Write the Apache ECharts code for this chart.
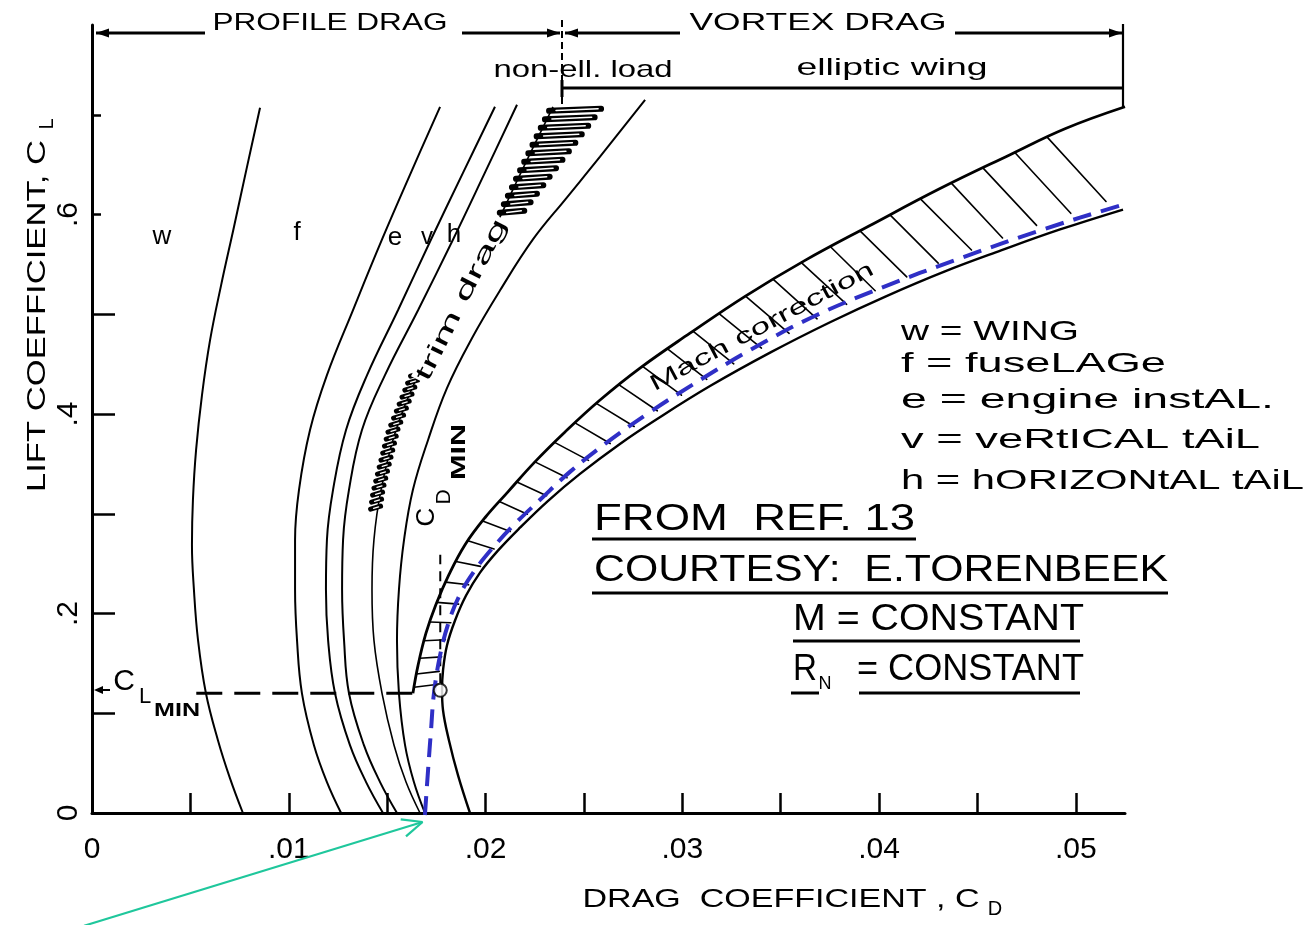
<!DOCTYPE html>
<html lang="en">
<head>
<meta charset="utf-8">
<title>Drag polar build-up</title>
<script src="https://cdn.jsdelivr.net/npm/echarts@6.0.0/dist/echarts.min.js"></script>
<style>
  html, body { margin: 0; padding: 0; background: #fff; }
  #chart { width: 1311px; height: 925px; }
</style>
</head>
<body>
<div id="chart"></div>
<script>
// ---- axes ----
const CD_MAX = 0.0525;
const CL_MAX = 0.79;
const CD_TICKS = [0.005, 0.01, 0.015, 0.02, 0.025, 0.03, 0.035, 0.04, 0.045, 0.05];
const CD_LABELS = [0, 0.01, 0.02, 0.03, 0.04, 0.05];
const CL_TICKS_LONG = [0.1, 0.2, 0.3, 0.4, 0.5];
const CL_TICKS_SHORT = [0.6, 0.7];
const CL_LABELS = [0, 0.2, 0.4, 0.6];

// ---- cumulative profile-drag polars, [CD, CL] ----
const POLAR_W = [[0.00854,0.707],[0.00788,0.648],[0.00722,0.588],[0.00656,0.529],[0.0060,0.474],[0.00559,0.419],[0.00529,0.364],[0.00513,0.314],[0.00508,0.269],[0.00518,0.224],[0.00539,0.173],[0.00579,0.12],[0.0064,0.073],[0.00701,0.035],[0.00767,0]];
const POLAR_F = [[0.01769,0.708],[0.01621,0.642],[0.01474,0.575],[0.01326,0.504],[0.01194,0.439],[0.01108,0.384],[0.01052,0.324],[0.01032,0.274],[0.01032,0.224],[0.01042,0.173],[0.01067,0.12],[0.01128,0.068],[0.01194,0.031],[0.01266,0]];
const POLAR_E = [[0.02048,0.708],[0.01886,0.642],[0.01723,0.575],[0.01555,0.504],[0.01398,0.439],[0.01291,0.384],[0.01225,0.324],[0.01194,0.274],[0.01189,0.224],[0.012,0.173],[0.01235,0.12],[0.01311,0.068],[0.01393,0.031],[0.01479,0]];
const POLAR_V = [[0.0216,0.71],[0.01997,0.642],[0.01835,0.575],[0.01657,0.504],[0.01489,0.439],[0.01372,0.384],[0.01306,0.324],[0.01276,0.274],[0.01271,0.224],[0.01281,0.173],[0.01306,0.12],[0.01382,0.068],[0.01464,0.031],[0.0155,0]];
const POLAR_H = [[0.02343,0.708],[0.0218,0.642],[0.02018,0.575],[0.0183,0.504],[0.01657,0.439],[0.01545,0.384],[0.01469,0.324],[0.01433,0.274],[0.01423,0.224],[0.01433,0.173],[0.01474,0.12],[0.01535,0.068],[0.01596,0.031],[0.01667,0]];
const POLAR_TRIM = [[0.02811,0.715],[0.02582,0.658],[0.02409,0.616],[0.02241,0.575],[0.02074,0.524],[0.01931,0.476],[0.01804,0.426],[0.01708,0.374],[0.01631,0.324],[0.01586,0.274],[0.0156,0.224],[0.0155,0.173],[0.0156,0.12],[0.01591,0.068],[0.01636,0.031],[0.01692,0]];

// ---- vortex-drag band (non-elliptic load) and Mach-corrected polar ----
const VORTEX_UPPER = [[0.01631,0.12],[0.01657,0.148],[0.01697,0.18],[0.01748,0.209],[0.01814,0.239],[0.01896,0.269],[0.01997,0.296],[0.02114,0.322],[0.02251,0.352],[0.02404,0.382],[0.02582,0.414],[0.02785,0.446],[0.03039,0.481],[0.03319,0.518],[0.03624,0.554],[0.03954,0.589],[0.0431,0.626],[0.04666,0.66],[0.04945,0.686],[0.0525,0.708]];
const VORTEX_LOWER = [[0.01921,0],[0.0186,0.038],[0.01814,0.073],[0.01784,0.103],[0.01779,0.123],[0.01784,0.143],[0.01804,0.168],[0.01845,0.193],[0.01901,0.218],[0.01972,0.241],[0.02063,0.263],[0.02175,0.286],[0.02318,0.313],[0.0248,0.34],[0.02683,0.37],[0.02872,0.395],[0.03141,0.428],[0.03451,0.462],[0.03751,0.492],[0.04035,0.518],[0.04335,0.543],[0.0462,0.564],[0.0492,0.585],[0.0524,0.605]];
const MACH_POLAR = [[0.01692,-0.002],[0.01708,0.043],[0.01723,0.083],[0.01738,0.12],[0.01769,0.158],[0.01814,0.192],[0.0187,0.219],[0.01941,0.242],[0.02033,0.265],[0.0215,0.29],[0.02277,0.314],[0.02429,0.342],[0.02607,0.37],[0.02836,0.402],[0.0309,0.434],[0.03344,0.464],[0.03649,0.496],[0.04005,0.526],[0.04411,0.556],[0.04818,0.584],[0.05225,0.609],[0.0553,0.626],[0.05733,0.637]];

// ---- reference marks ----
const CL_MIN = 0.12;
const CL_MIN_SPAN = [0.0053, 0.0164];      // CD extent of the dashed C_L,min line
const CD_MIN_POINT = [0.0177, 0.123];
const CD_MIN_SPAN = [0.13, 0.259];         // CL extent of the dashed C_D,min marker
const TRIM_HATCH_CL = [0.60, 0.704];
const TRIM_LOOP_CL = [0.30, 0.44];
const ARROW_TAIL = [-0.0004, -0.113];
const ARROW_TIP = [0.0168, -0.009];

const FONT = "'Liberation Sans', 'DejaVu Sans', Arial, sans-serif";
const INK = '#000';
const BLUE = '#2f2fc6';
const TEAL = '#1fc79c';

const chart = echarts.init(document.getElementById('chart'), null, { renderer: 'canvas' });

function polarLine(data, width, extra) {
  return Object.assign({
    type: 'line', data: data, symbol: 'none', smooth: 0.4, clip: false, silent: true,
    lineStyle: { color: INK, width: width || 2 }, z: 3
  }, extra || {});
}

function sampler(pts) {
  const cum = [0];
  for (let i = 1; i < pts.length; i++) cum.push(cum[i - 1] + Math.hypot(pts[i][0] - pts[i - 1][0], pts[i][1] - pts[i - 1][1]));
  const total = cum[cum.length - 1];
  return function (t) {
    const d = Math.max(0, Math.min(1, t)) * total;
    let i = 1;
    while (i < cum.length - 1 && cum[i] < d) i++;
    const seg = (cum[i] - cum[i - 1]) || 1;
    const k = (d - cum[i - 1]) / seg;
    return [pts[i - 1][0] + (pts[i][0] - pts[i - 1][0]) * k, pts[i - 1][1] + (pts[i][1] - pts[i - 1][1]) * k];
  };
}

// distance along ray a + t*d to the first crossing of a polyline
function rayHit(a, d, poly) {
  let best = null;
  for (let i = 1; i < poly.length; i++) {
    const p = poly[i - 1], q = poly[i];
    const e = [q[0] - p[0], q[1] - p[1]];
    const den = d[0] * e[1] - d[1] * e[0];
    if (Math.abs(den) < 1e-9) continue;
    const w = [p[0] - a[0], p[1] - a[1]];
    const t = (w[0] * e[1] - w[1] * e[0]) / den;
    const u = (w[0] * d[1] - w[1] * d[0]) / den;
    if (t > 0 && u >= 0 && u <= 1 && (best === null || t < best)) best = t;
  }
  return best;
}

function xAtY(pts, y) {
  for (let i = 1; i < pts.length; i++) {
    const a = pts[i - 1], b = pts[i];
    if ((y - a[1]) * (y - b[1]) <= 0 && a[1] !== b[1]) return a[0] + (b[0] - a[0]) * (y - a[1]) / (b[1] - a[1]);
  }
  return pts[pts.length - 1][0];
}

function seg(x1, y1, x2, y2, color, w) {
  return { type: 'line', shape: { x1: x1, y1: y1, x2: x2, y2: y2 }, style: { stroke: color, lineWidth: w, lineCap: 'round' } };
}

// slanted hatch strokes across the vortex-drag band
function renderVortexHatch(params, api) {
  const up = VORTEX_UPPER.map(p => api.coord(p));
  const lo = VORTEX_LOWER.filter(p => p[1] >= CL_MIN).map(p => api.coord(p));
  const U = sampler(up);
  const kids = [];
  const n = 34, tilt = 0.3;
  for (let i = 0; i < n; i++) {
    const s = Math.pow((i + 0.7) / n, 1.3);
    const a = U(s), p0 = U(s - 0.01), p1 = U(s + 0.01);
    let tx = p1[0] - p0[0], ty = p1[1] - p0[1];
    const tl = Math.hypot(tx, ty) || 1; tx /= tl; ty /= tl;
    const nx = -ty, ny = tx;                       // normal pointing into the band
    const d = [nx * Math.cos(tilt) + tx * Math.sin(tilt), ny * Math.cos(tilt) + ty * Math.sin(tilt)];
    const hit = rayHit(a, d, lo);
    if (hit === null) continue;
    const len = hit * 0.86;
    kids.push(seg(a[0], a[1], a[0] + d[0] * len, a[1] + d[1] * len, INK, 1.6));
  }
  return { type: 'group', children: kids };
}

// looped hatching of the trim-drag strip
function renderTrimHatch(params, api) {
  const pts = POLAR_H.map(p => api.coord(p));
  const kids = [];
  const yA = api.coord([0, TRIM_HATCH_CL[1]])[1], yB = api.coord([0, TRIM_HATCH_CL[0]])[1];
  for (let y = yA; y <= yB; y += 8.5) {
    const x = xAtY(pts, y);
    const t = (yB - y) / (yB - yA);
    const len = 22 + 28 * t;
    kids.push(seg(x - 2, y, x + len, y - 2, INK, 6));
    kids.push(seg(x + 5, y - 0.3, x + len - 3, y - 2, '#fff', 1.6));
  }
  const yC = api.coord([0, TRIM_LOOP_CL[1]])[1], yD = api.coord([0, TRIM_LOOP_CL[0]])[1];
  for (let y = yC; y <= yD; y += 7) {
    const x = xAtY(pts, y);
    kids.push(seg(x - 8, y + 2, x + 2, y - 1, INK, 5));
    kids.push(seg(x - 5, y + 1.2, x, y - 0.2, '#fff', 1.3));
  }
  return { type: 'group', children: kids };
}

// ---- text helpers (stretched to the hand-lettered widths) ----
const mctx = document.createElement('canvas').getContext('2d');
function txt(str, x, y, width, size, opt) {
  opt = opt || {};
  const weight = opt.weight || 'normal';
  mctx.font = weight + ' ' + size + 'px ' + FONT;
  const w = mctx.measureText(str).width;
  const style = {
    text: str, fontSize: size, fontFamily: FONT, fontWeight: weight, fill: opt.color || INK,
    align: opt.align || 'center', verticalAlign: 'middle'
  };
  if (opt.bg) { style.backgroundColor = opt.bg; style.padding = opt.pad || [0, 2]; }
  return { type: 'text', x: x, y: y, rotation: opt.rot || 0, scaleX: width ? width / w : 1, z: 30, silent: true, style: style };
}
function gline(x1, y1, x2, y2, w, extra) {
  return Object.assign({ type: 'line', z: 30, silent: true, shape: { x1: x1, y1: y1, x2: x2, y2: y2 },
    style: { stroke: INK, lineWidth: w || 2 } }, extra || {});
}
function head(x, y, dir) {
  return { type: 'polygon', z: 30, silent: true, shape: { points: [[x, y], [x - dir * 13, y - 4.5], [x - dir * 13, y + 4.5]] }, style: { fill: INK } };
}

const R90 = Math.PI / 2;
const graphics = [
  // span brackets along the top
  gline(96, 33, 205, 33, 3), head(96, 33, -1),
  gline(462, 33, 560, 33, 3), head(560, 33, 1),
  gline(565, 33, 680, 33, 3), head(565, 33, -1),
  gline(955, 33, 1122, 33, 3), head(1122, 33, 1),
  gline(562, 20, 562, 107, 2, { style: { stroke: INK, lineWidth: 2, lineDash: [7, 4] } }),
  gline(1123, 24, 1123, 107, 2.2),
  gline(562, 88, 1123, 88, 3),
  gline(562, 80, 562, 97, 3),
  txt('PROFILE DRAG', 330, 23, 235, 24),
  txt('VORTEX DRAG', 818, 23, 257, 24),
  txt('non-ell. load', 583, 70, 179, 24),
  txt('elliptic wing', 892, 68, 191, 24),

  // axis titles
  txt('LIFT COEFFICIENT, C', 38, 316, 352, 26, { rot: R90 }),
  txt('L', 47, 124, 0, 20, { rot: R90 }),
  txt('DRAG  COEFFICIENT , C', 781, 900, 397, 25),
  txt('D', 995, 909, 0, 20),

  // C_L,min marker at the axis
  { type: 'polygon', z: 30, silent: true, shape: { points: [[94, 690], [103, 686], [103, 694]] }, style: { fill: INK } },
  gline(100, 690, 110, 690, 2),
  txt('C', 124, 682, 0, 30),
  txt('L', 145, 697, 0, 22),
  txt('MIN', 177, 711, 46, 19, { weight: 'bold' }),

  // C_D,min label
  txt('C', 427, 517, 0, 26, { rot: R90 }),
  txt('D', 444, 497, 0, 21, { rot: R90 }),
  txt('MIN', 459, 452, 56, 20, { rot: R90, weight: 'bold' }),

  // component letters
  txt('w', 162, 237, 0, 26),
  txt('f', 297, 233, 0, 26),
  txt('e', 395, 238, 0, 26),
  txt('v', 427, 237, 0, 24),
  txt('h', 454, 235, 0, 26),

  // strip captions
  txt('trim drag', 462, 300, 178, 23, { rot: 1.107, bg: '#fff', pad: [0, 1] }),
  txt('Mach correction', 762, 327, 250, 22, { rot: 0.49 }),

  // component key
  txt('w = WING', 901, 332, 178, 28, { align: 'left' }),
  txt('f = fuseLAGe', 901, 364, 265, 28, { align: 'left' }),
  txt('e = engine instAL.', 901, 400, 373, 28, { align: 'left' }),
  txt('v = veRtICAL tAiL', 901, 440, 359, 28, { align: 'left' }),
  txt('h = hORIZONtAL tAiL', 901, 481, 403, 28, { align: 'left' }),

  // source notes
  txt('FROM  REF. 13', 594, 520, 321, 36, { align: 'left' }),
  gline(592, 539, 916, 539, 3),
  txt('COURTESY:  E.TORENBEEK', 594, 571, 574, 36, { align: 'left' }),
  gline(592, 593, 1168, 593, 3),
  txt('M = CONSTANT', 793, 620, 291, 36, { align: 'left' }),
  gline(793, 641, 1080, 641, 3),
  txt('R', 793, 670, 24, 36, { align: 'left' }),
  txt('N', 825, 684, 0, 18),
  txt('= CONSTANT', 857, 670, 227, 36, { align: 'left' }),
  gline(791, 693, 819, 693, 3),
  gline(859, 693, 1080, 693, 3)
];

const option = {
  animation: false,
  backgroundColor: '#fff',
  grid: { left: 92, right: 186, top: 25, bottom: 112, containLabel: false },
  xAxis: {
    type: 'value', min: 0, max: CD_MAX,
    axisLine: { lineStyle: { color: INK, width: 3 } },
    axisTick: { inside: true, length: 20, customValues: CD_TICKS, lineStyle: { color: INK, width: 2.5 } },
    axisLabel: {
      customValues: CD_LABELS, color: INK, fontFamily: FONT, fontSize: 30, margin: 22,
      formatter: v => v === 0 ? '0' : '.' + String(Math.round(v * 100)).padStart(2, '0')
    },
    splitLine: { show: false }
  },
  yAxis: [{
    type: 'value', min: 0, max: CL_MAX,
    axisLine: { lineStyle: { color: INK, width: 3 } },
    axisTick: { inside: true, length: 23, customValues: CL_TICKS_LONG, lineStyle: { color: INK, width: 2.5 } },
    axisLabel: {
      customValues: CL_LABELS, rotate: 90, color: INK, fontFamily: FONT, fontSize: 30, margin: 8,
      formatter: v => v === 0 ? '0' : '.' + Math.round(v * 10)
    },
    splitLine: { show: false }
  }, {
    type: 'value', min: 0, max: CL_MAX, position: 'left', offset: 0,
    axisLine: { show: false },
    axisTick: { inside: true, length: 9, customValues: CL_TICKS_SHORT, lineStyle: { color: INK, width: 2.5 } },
    axisLabel: { show: false },
    splitLine: { show: false }
  }],
  graphic: graphics,
  series: [
    { type: 'custom', data: [[0, 0]], renderItem: renderVortexHatch, silent: true, z: 2 },
    { type: 'custom', data: [[0, 0]], renderItem: renderTrimHatch, silent: true, z: 4 },
    polarLine(POLAR_W, 2),
    polarLine(POLAR_F, 2),
    polarLine(POLAR_E, 2),
    polarLine(POLAR_V, 2),
    polarLine(POLAR_H, 1.6),
    polarLine(POLAR_TRIM, 2),
    polarLine(VORTEX_UPPER, 2.8),
    polarLine(VORTEX_LOWER, 2.4),
    polarLine(MACH_POLAR, 4, { lineStyle: { color: BLUE, width: 4, type: [19, 10] }, z: 6 }),
    polarLine([[CL_MIN_SPAN[0], CL_MIN], [CL_MIN_SPAN[1], CL_MIN]], 3, { smooth: false, lineStyle: { color: INK, width: 3, type: [26, 12] } }),
    polarLine([[CD_MIN_POINT[0], CD_MIN_SPAN[0]], [CD_MIN_POINT[0], CD_MIN_SPAN[1]]], 2, { smooth: false, lineStyle: { color: INK, width: 2, type: [10, 7] } }),
    {
      type: 'scatter', data: [CD_MIN_POINT], symbol: 'circle', symbolSize: 13, silent: true, z: 7,
      itemStyle: { color: '#fff', borderColor: INK, borderWidth: 2 }
    }
  ]
};

chart.setOption(option);

// pointer from below the axis to where the Mach-corrected polar meets C_L = 0
const tip = chart.convertToPixel({ gridIndex: 0 }, ARROW_TIP);
const tail = chart.convertToPixel({ gridIndex: 0 }, ARROW_TAIL);
const ang = Math.atan2(tip[1] - tail[1], tip[0] - tail[0]);
const arm = 22, spread = 0.42;
const arrowEls = [
  gline(tail[0], tail[1], tip[0], tip[1], 2.2, { style: { stroke: TEAL, lineWidth: 2.2 } }),
  gline(tip[0], tip[1], tip[0] - arm * Math.cos(ang - spread), tip[1] - arm * Math.sin(ang - spread), 2.2, { style: { stroke: TEAL, lineWidth: 2.2 } }),
  gline(tip[0], tip[1], tip[0] - arm * Math.cos(ang + spread), tip[1] - arm * Math.sin(ang + spread), 2.2, { style: { stroke: TEAL, lineWidth: 2.2 } })
];
chart.setOption({ graphic: graphics.concat(arrowEls) });
</script>
</body>
</html>
